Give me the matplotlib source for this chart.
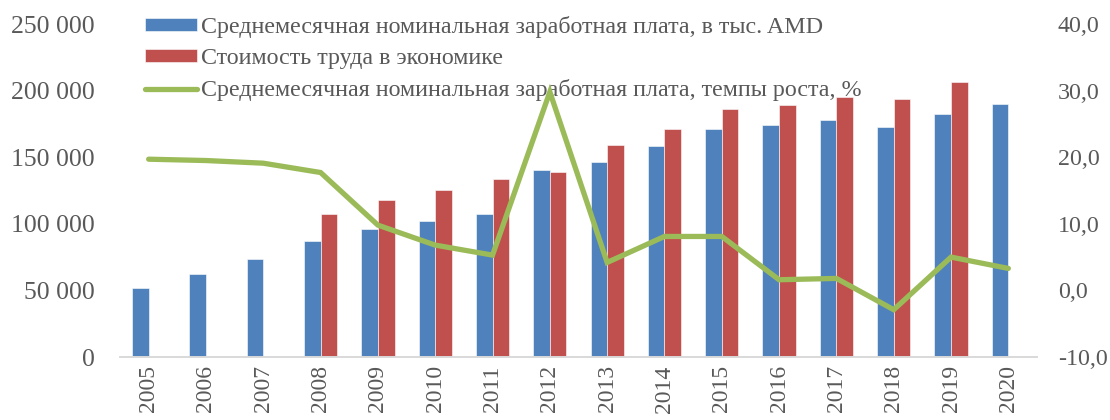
import matplotlib
matplotlib.use("Agg")

import matplotlib.pyplot as plt
import numpy as np

years = [str(y) for y in range(2005, 2021)]
wage = [51800, 62100, 73800, 87100, 95900, 102300, 107600, 140400,
        146400, 158400, 171300, 174200, 177700, 172400, 182400, 189600]
labour_cost = [np.nan, np.nan, np.nan, 107600, 117900, 125100, 133600, 139100,
               159000, 171300, 185900, 189500, 195400, 193700, 206700, np.nan]
growth = [19.7, 19.5, 19.1, 17.7, 9.8, 6.8, 5.3, 29.8,
          4.2, 8.1, 8.1, 1.6, 1.8, -2.9, 5.0, 3.3]

left_ticks = [0, 50000, 100000, 150000, 200000, 250000]
left_labels = ["0", "50 000", "100 000", "150 000", "200 000", "250 000"]
right_ticks = [-10, 0, 10, 20, 30, 40]
right_labels = ["-10,0", "0,0", "10,0", "20,0", "30,0", "40,0"]

blue = "#4F81BD"
red = "#C0504D"
green = "#9BBB59"
grey = "#595959"

plt.rcParams["font.family"] = ["Liberation Serif", "DejaVu Serif"]

fig = plt.figure(figsize=(11.1, 4.2), dpi=100)
ax = fig.add_axes([120 / 1110, 63 / 420, 917 / 1110, 333 / 420])
ax2 = ax.twinx()

x = np.arange(len(years))
w = 0.29
ax.bar(x - w / 2, wage, w, color=blue, edgecolor="white", linewidth=0.4,
       label="Среднемесячная номинальная заработная плата, в тыс. AMD")
ax.bar(x + w / 2, labour_cost, w, color=red, edgecolor="white", linewidth=0.4,
       label="Стоимость труда в экономике")
ax2.plot(x, growth, color=green, linewidth=3.8, solid_capstyle="round",
         solid_joinstyle="miter", zorder=3,
         label="Среднемесячная номинальная заработная плата, темпы роста, %")

ax.set_xlim(-0.5, len(years) - 0.5)
ax.set_ylim(0, 250000)
ax2.set_ylim(-10, 40)
ax.set_yticks(left_ticks)
ax.set_yticklabels(left_labels)
ax2.set_yticks(right_ticks)
ax2.set_yticklabels(right_labels)
ax.set_xticks(x)
ax.set_xticklabels(years, rotation=90)

for a in (ax, ax2):
    for s in ("top", "left", "right"):
        a.spines[s].set_visible(False)
    a.spines["bottom"].set_color("#D9D9D9")
    a.spines["bottom"].set_linewidth(1.2)
    a.tick_params(length=0, colors=grey)
ax.tick_params(axis="y", labelsize=18.5, pad=18)
ax2.tick_params(axis="y", labelsize=17.3, pad=15)
# years are clipped at the bottom in the source; keep them just inside here
ax.tick_params(axis="x", labelsize=17, pad=6)

h1, l1 = ax.get_legend_handles_labels()
h2, l2 = ax2.get_legend_handles_labels()
leg = ax2.legend(h1 + h2, l1 + l2, loc="upper left",
                 bbox_to_anchor=(145 / 1110, 1 - 16 / 420),
                 bbox_transform=fig.transFigure, frameon=False,
                 fontsize=17.3, handlelength=2.15, handleheight=0.45,
                 handletextpad=0.2, labelspacing=0.42, borderpad=0,
                 borderaxespad=0)
for t in leg.get_texts():
    t.set_color(grey)
leg.set_zorder(1)

fig.savefig("out.png", dpi=100)
